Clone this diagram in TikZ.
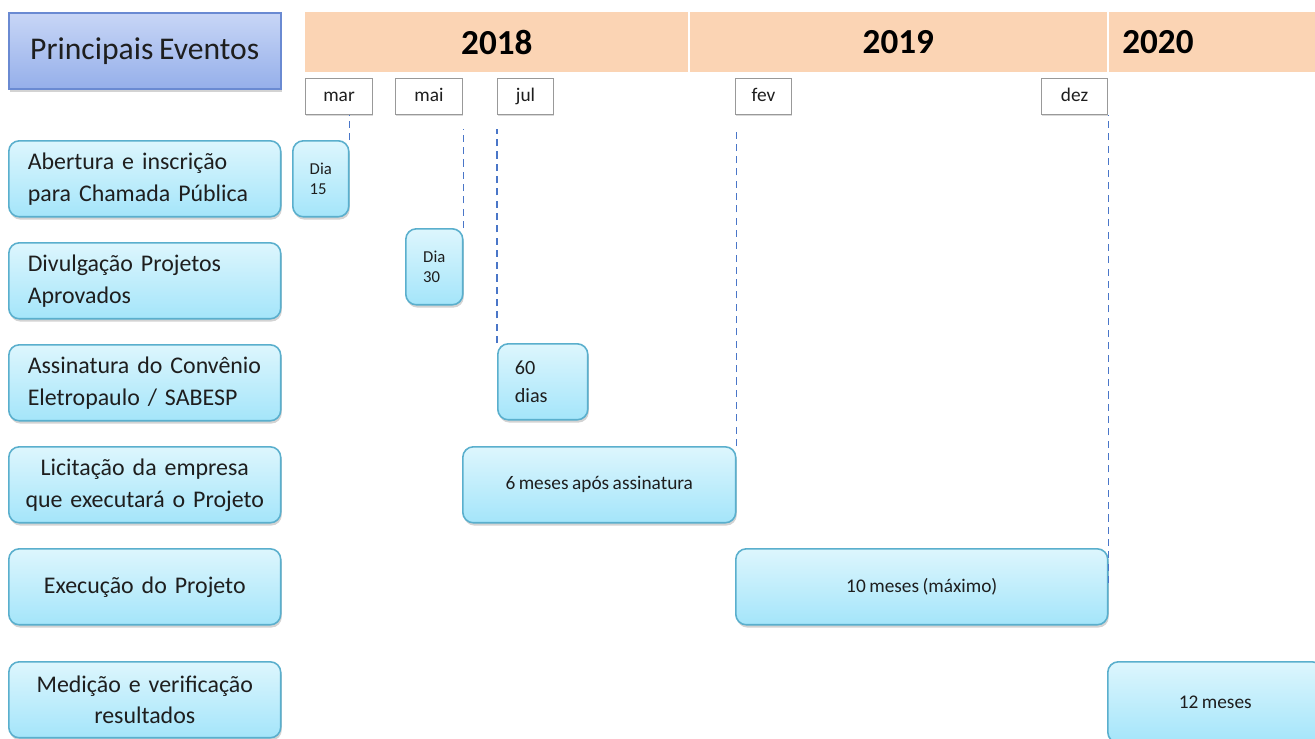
\documentclass[tikz,border=0pt]{standalone}
\usepackage{fontspec}
\setmainfont{Carlito}[WordSpace=0.8]
\usepackage{xcolor}
\usetikzlibrary{shadows}
\definecolor{faixa}{HTML}{FBD4B4}
\definecolor{cianoA}{HTML}{DDF6FD}
\definecolor{cianoB}{HTML}{A4E5FA}
\definecolor{bordaC}{HTML}{5AAFCD}
\definecolor{azulA}{HTML}{C8D6F6}
\definecolor{azulB}{HTML}{95AFEA}
\definecolor{bordaA}{HTML}{6A8AD2}
\definecolor{guiaC}{HTML}{4A76C8}
\definecolor{texto}{HTML}{1E1E1E}
\tikzset{
  caixa/.style={draw=bordaC, line width=0.9pt, rounded corners=6pt, top color=cianoA, bottom color=cianoB,
    drop shadow={shadow xshift=0.6pt, shadow yshift=-1.6pt, opacity=0.35}, text=texto, anchor=north west,
    inner sep=0pt, minimum height=1.52cm},
  rotulo/.style={caixa, minimum width=5.44cm, text width=4.68cm, font=\fontsize{13.6}{18.2}\selectfont},
  mes/.style={draw=gray!80, fill=white, line width=0.6pt, anchor=north west, minimum height=0.72cm,
    text height=1.6ex, text depth=0.3ex,
    drop shadow={shadow xshift=0.5pt, shadow yshift=-0.8pt, opacity=0.3}, font=\fontsize{11}{13}\selectfont, text=texto},
  ano/.style={fill=faixa, anchor=north west, minimum height=1.2cm, inner sep=0pt, font=\fontsize{20}{24}\selectfont\bfseries},
  guia/.style={draw=guiaC, line width=1pt, dash pattern=on 4pt off 3pt}
}
\begin{document}
\begin{tikzpicture}[x=0.02cm, y=-0.02cm]
  \useasboundingbox (0,0) rectangle (1315,738);
  % Cabecalho
  \node[anchor=north west, draw=bordaA, line width=0.9pt, top color=azulA, bottom color=azulB, minimum width=5.44cm,
    minimum height=1.52cm, drop shadow={shadow xshift=0.8pt, shadow yshift=-1.8pt, opacity=0.35},
    font=\fontsize{18}{22}\selectfont, text=texto] (titulo) at (8,12) {Principais Eventos};
  \node[ano, minimum width=7.66cm] (a2018) at (305,12) {2018};
  \node[ano, minimum width=8.36cm] (a2019) at (689,12) {2019};
  \node[ano, minimum width=4.14cm, text width=3.58cm, inner xsep=0.28cm, align=left] (a2020) at (1108,12) {2020};
  % Meses
  \node[mes, minimum width=1.34cm] (mar) at (305,78) {mar};
  \node[mes, minimum width=1.34cm] (mai) at (395,78) {mai};
  \node[mes, minimum width=1.12cm] (jul) at (497,78) {jul};
  \node[mes, minimum width=1.12cm] (fev) at (735,78) {fev};
  \node[mes, minimum width=1.32cm] (dez) at (1041,78) {dez};
  % Linhas dos eventos
  \node[rotulo, align=left] (abertura) at (8,140) {Abertura e inscrição\\para Chamada Pública};
  \node[rotulo, align=left] (divulgacao) at (8,242) {Divulgação Projetos\\Aprovados};
  \node[rotulo, align=left] (assinatura) at (8,344) {Assinatura do Convênio\\Eletropaulo / SABESP};
  \node[rotulo, text width=5.3cm, align=center] (licitacao) at (8,446) {Licitação da empresa\\que executará o Projeto};
  \node[rotulo, text width=5.3cm, align=center] (execucao) at (8,548) {Execução do Projeto};
  \node[rotulo, text width=5.3cm, align=center] (medicao) at (8,661) {Medição e verificação\\resultados};
  % Prazos
  \node[caixa, minimum width=1.12cm, align=left, font=\fontsize{9.5}{11.4}\selectfont] (dia15) at (292,140) {Dia\\15};
  \node[caixa, minimum width=1.14cm, align=left, font=\fontsize{9.5}{11.4}\selectfont] (dia30) at (405,228) {Dia\\30};
  \node[caixa, minimum width=1.8cm, text width=1.12cm, align=left, font=\fontsize{11.5}{16}\selectfont] (sessenta) at (497,343) {60\\dias};
  \node[caixa, minimum width=5.46cm, font=\fontsize{11}{13}\selectfont] (seis) at (462,446) {6 meses após assinatura};
  \node[caixa, minimum width=7.44cm, font=\fontsize{11}{13}\selectfont] (dez-meses) at (735,548) {10 meses (máximo)};
  \node[caixa, minimum width=4.3cm, minimum height=1.62cm, font=\fontsize{11}{13}\selectfont] (doze) at (1107,661) {12 meses};
  % Guias tracejadas
  \draw[guia] (dia15.north east) -- (dia15.north east |- mar.south);
  \draw[guia, shorten >=0.28cm] (dia30.north east) -- (dia30.north east |- mai.south);
  \draw[guia, shorten >=0.28cm] (sessenta.north west) -- (sessenta.north west |- jul.south);
  \draw[guia, shorten >=0.28cm] (seis.north east) -- (seis.north east |- fev.south);
  \draw[guia] ([yshift=-0.7cm]dez-meses.north east) -- (dez-meses.north east |- dez.south);
  % Separadores dos anos
  \draw[white, line width=1.2pt] (a2018.north east) -- (a2018.south east);
  \draw[white, line width=1.2pt] (a2019.north east) -- (a2019.south east);
\end{tikzpicture}
\end{document}
